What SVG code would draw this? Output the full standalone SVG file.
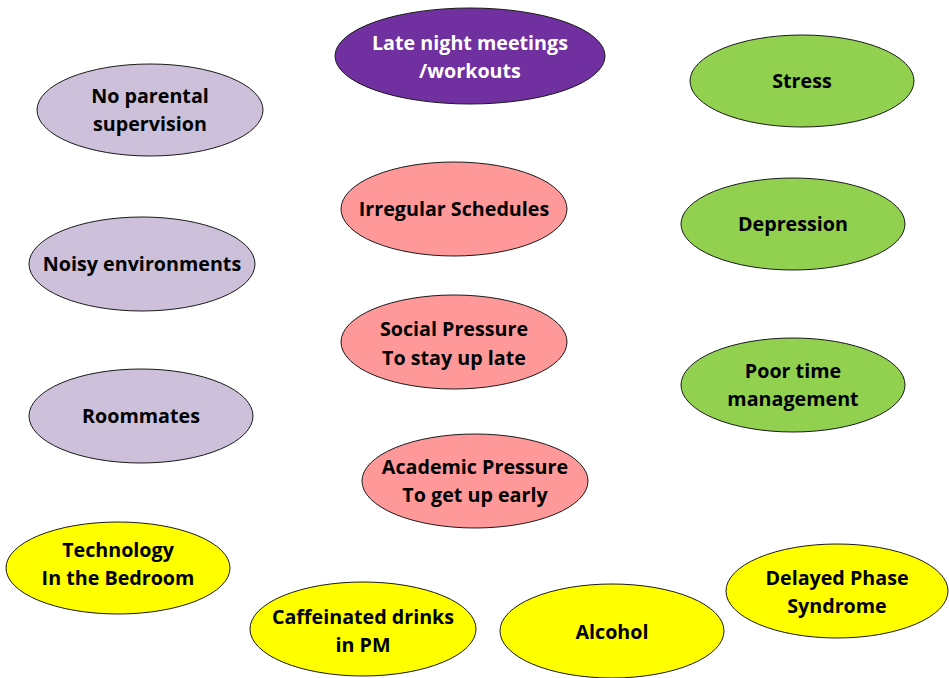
<svg xmlns="http://www.w3.org/2000/svg" width="949" height="678" viewBox="0 0 949 678">
<style>
ellipse{stroke:#1a1a1a;stroke-width:1}
text{font-family:"Open Sans","Liberation Sans",sans-serif;font-weight:bold;font-size:19.7px;text-anchor:middle;fill:#000}
.purple ellipse{fill:#7030A0}
.purple text{fill:#fff}
.lav ellipse{fill:#CCC0DA}
.green ellipse{fill:#92D050}
.pink ellipse{fill:#FF9999}
.yellow ellipse{fill:#FFFF00}
</style>
<rect width="949" height="678" fill="#fff"/>
<g id="connectors"></g>
<g id="late-night" class="purple"><ellipse cx="470" cy="56" rx="135" ry="48"/><text x="470" y="50">Late night meetings</text><text x="470" y="78">/workouts</text></g>
<g id="no-parental" class="lav"><ellipse cx="150" cy="110" rx="113" ry="46"/><text x="150" y="103">No parental</text><text x="150" y="131">supervision</text></g>
<g id="stress" class="green"><ellipse cx="802" cy="81" rx="112" ry="46"/><text x="802" y="88">Stress</text></g>
<g id="irregular" class="pink"><ellipse cx="454" cy="209" rx="113" ry="47"/><text x="454" y="216">Irregular Schedules</text></g>
<g id="depression" class="green"><ellipse cx="793" cy="224" rx="112" ry="46"/><text x="793" y="231">Depression</text></g>
<g id="noisy" class="lav"><ellipse cx="142" cy="264" rx="113" ry="47"/><text x="142" y="271">Noisy environments</text></g>
<g id="social" class="pink"><ellipse cx="454" cy="342" rx="113" ry="47"/><text x="454" y="336">Social Pressure</text><text x="454" y="365">To stay up late</text></g>
<g id="poor-time" class="green"><ellipse cx="793" cy="385" rx="112" ry="47"/><text x="793" y="378">Poor time</text><text x="793" y="406">management</text></g>
<g id="roommates" class="lav"><ellipse cx="141" cy="416" rx="112" ry="47"/><text x="141" y="423">Roommates</text></g>
<g id="academic" class="pink"><ellipse cx="475" cy="481" rx="113" ry="47"/><text x="475" y="474">Academic Pressure</text><text x="475" y="502">To get up early</text></g>
<g id="technology" class="yellow"><ellipse cx="118" cy="568" rx="112" ry="46"/><text x="118" y="557">Technology</text><text x="118" y="585">In the Bedroom</text></g>
<g id="caffeinated" class="yellow"><ellipse cx="363" cy="629" rx="113" ry="47"/><text x="363" y="624">Caffeinated drinks</text><text x="363" y="652">in PM</text></g>
<g id="alcohol" class="yellow"><ellipse cx="612" cy="631" rx="112" ry="47"/><text x="612" y="639">Alcohol</text></g>
<g id="delayed" class="yellow"><ellipse cx="837" cy="591" rx="111" ry="47"/><text x="837" y="585">Delayed Phase</text><text x="837" y="613">Syndrome</text></g>
</svg>
